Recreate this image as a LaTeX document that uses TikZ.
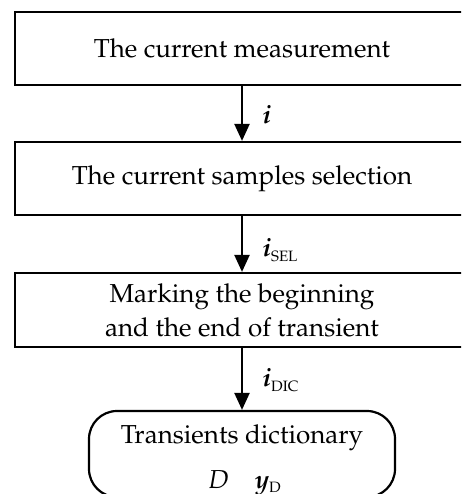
\documentclass[tikz,border=0pt]{standalone}
\usepackage[T1]{fontenc}
\usepackage{mathpazo}
\usetikzlibrary{arrows.meta}
\tikzset{
  stage/.style={draw, line width=2.2pt, minimum width=454pt, inner sep=0pt, align=center,
    font=\fontsize{26}{34}\selectfont},
  store/.style={draw, line width=2.2pt, rounded corners=28pt, minimum width=306pt,
    minimum height=86pt, inner sep=0pt},
  flow/.style={line width=2.2pt, -{Triangle[width=15pt,length=17pt]}},
  sig/.style={font=\fontsize{26}{30}\selectfont, anchor=west},
}
\newcommand{\sigvec}[1]{\textbf{\textit{#1}}}
\newcommand{\sigsub}[1]{\raisebox{-0.35ex}{\fontsize{15}{18}\selectfont #1}}
\begin{document}
\begin{tikzpicture}[x=1pt,y=-1pt]
  \useasboundingbox (0,0) rectangle (461,494);
  \begin{scope}
    \clip (0,0) rectangle (461,494);
    \node[stage, minimum height=73pt] (meas) at (242,48.5) {The current measurement};
    \node[stage, minimum height=73pt] (sel) at (242,178.5) {The current samples selection};
    \node[stage, minimum height=74pt] (mark) at (242,310) {Marking the beginning\\and the end of transient};
    \node[store] (dict) at (242,454) {};
    \node[font=\fontsize{26}{30}\selectfont] (dtitle) at (242,438) {Transients dictionary};
    \node[font=\fontsize{26}{30}\selectfont, anchor=base west] (dvars) at (205,488) {\textit{D}\hspace{26pt}\sigvec{y}\sigsub{D}};
    \draw[flow] (meas) -- (sel);
    \draw[flow] (sel) -- (mark);
    \draw[flow] (mark) -- (dict);
    \node[sig] (li) at (259,114) {\sigvec{i}};
    \node[sig] (lsel) at (259,250) {\sigvec{i}\sigsub{SEL}};
    \node[sig] (ldic) at (259,380) {\sigvec{i}\sigsub{DIC}};
  \end{scope}
\end{tikzpicture}
\end{document}
